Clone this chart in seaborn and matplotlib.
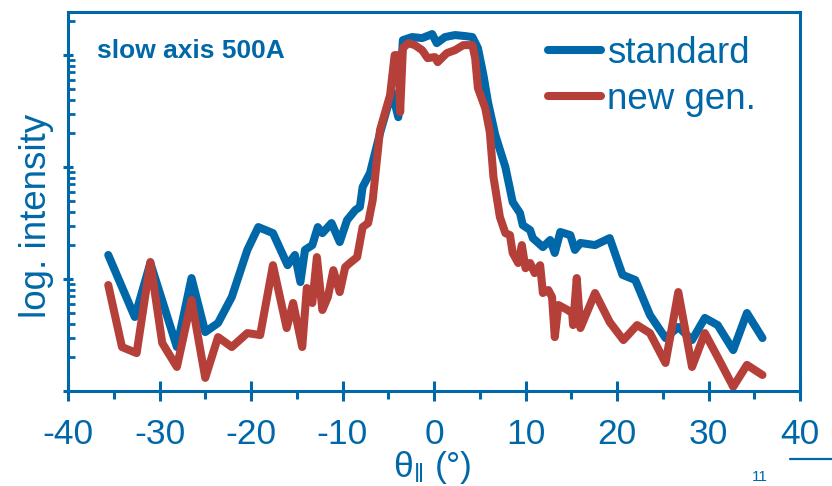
import numpy as np
import pandas as pd
import matplotlib
matplotlib.use("Agg")
import matplotlib.pyplot as plt
import seaborn as sns
from matplotlib.ticker import MultipleLocator, LogLocator, NullFormatter
from matplotlib.lines import Line2D

# ---- data ----
theta_std = [-35.6, -32.7, -31.0, -28.1, -26.5, -25.0, -23.6, -22.1, -20.4, -19.2,
             -17.6, -16.0, -15.2, -14.6, -14.1, -13.3, -12.7, -12.2, -11.2, -10.3,
             -9.5, -8.6, -8.1, -7.8, -7.0, -5.9, -4.6, -3.9, -3.4, -2.4,
             -1.3, -0.2, 0.3, 1.2, 2.3, 3.4, 4.2, 4.8, 5.4, 5.9,
             6.7, 7.8, 8.6, 9.4, 9.7, 10.5, 10.8, 11.9, 12.7, 13.2,
             13.8, 14.9, 15.4, 16.0, 17.6, 19.2, 20.6, 22.0, 23.6, 25.3,
             26.7, 28.2, 29.6, 31.0, 32.7, 34.2, 35.9]
int_std = [16.4, 4.58, 13.9, 2.47, 10.2, 3.36, 4.05, 6.91, 18.2, 29.1,
           25.7, 13.3, 16.4, 9.4, 18.2, 20.1, 29.1, 25.7, 31.6, 21.4,
           33.6, 41.3, 44.0, 66.3, 88.4, 201, 468, 279, 1361, 1449,
           1419, 1541, 1279, 1449, 1510, 1479, 1449, 1155, 663, 380,
           193, 100, 48.7, 38.8, 30.3, 27.4, 23.2, 19.3, 22.3, 17.1,
           26.3, 24.7, 18.2, 21.0, 20.1, 23.2, 10.9, 9.8, 4.77, 2.97,
           3.73, 2.85, 4.49, 3.88, 2.32, 4.97, 2.97]

theta_new = [-35.6, -34.1, -32.5, -31.0, -29.7, -28.1, -26.5, -25.0, -23.6, -22.1,
             -20.4, -19.0, -17.6, -16.1, -15.4, -14.4, -13.9, -13.3, -12.8, -12.2,
             -11.6, -11.0, -10.3, -9.7, -9.2, -8.4, -7.8, -7.2, -6.7, -5.9,
             -4.8, -4.3, -3.9, -3.7, -3.4, -2.8, -2.1, -1.3, -0.7, 0.1,
             0.4, 1.4, 2.3, 3.2, 4.2, 4.5, 4.8, 5.6, 6.1, 6.5,
             7.2, 7.8, 8.3, 8.6, 9.2, 9.6, 10.0, 10.5, 11.0, 11.6,
             11.9, 12.5, 12.9, 13.2, 13.6, 14.6, 15.1, 15.2, 15.6, 16.0,
             17.6, 19.2, 20.7, 22.2, 23.6, 25.3, 26.7, 28.2, 29.6, 31.0,
             32.7, 34.2, 35.9]
int_new = [8.84, 2.47, 2.18, 14.2, 2.68, 1.64, 6.5, 1.31, 3.03, 2.47,
           3.29, 3.16, 13.3, 3.65, 6.11, 2.47, 8.31, 6.11, 15.7, 5.29,
           6.91, 12.0, 7.65, 12.8, 13.9, 15.7, 29.1, 31.6, 50.7, 214,
           439, 1000, 1000, 310, 1155, 1279, 1228, 1108, 940, 960,
           866, 1042, 1108, 1228, 1228, 940, 507, 336, 205, 81.4,
           35.8, 25.7, 24.7, 17.1, 13.9, 20.1, 12.5, 13.9, 11.3, 13.3,
           7.5, 7.97, 6.91, 3.03, 5.86, 5.29, 4.97, 3.88, 10.2, 3.65,
           7.5, 4.13, 2.85, 3.88, 3.29, 1.78, 7.65, 1.64, 3.29, 2.01,
           1.09, 1.71, 1.39]

series_names = ["standard", "new gen."]
x_ticks = [-40, -30, -20, -10, 0, 10, 20, 30, 40]
title_text = "slow axis 500A"

BLUE = "#0068A8"
RED = "#B5403A"

df = pd.concat([
    pd.DataFrame({"theta": theta_std, "intensity": int_std, "series": series_names[0]}),
    pd.DataFrame({"theta": theta_new, "intensity": int_new, "series": series_names[1]}),
], ignore_index=True)

sns.set_style("ticks")
plt.rcParams["font.family"] = ["Liberation Sans", "DejaVu Sans"]
plt.rcParams["mathtext.fontset"] = "custom"
plt.rcParams["mathtext.rm"] = "Liberation Sans"
plt.rcParams["mathtext.it"] = "Liberation Sans"
plt.rcParams["mathtext.fallback"] = "stixsans"

fig = plt.figure(figsize=(8.32, 4.86), dpi=100)
ax = fig.add_axes([68 / 832, 1 - 391 / 486, 732 / 832, 379 / 486])

sns.lineplot(data=df, x="theta", y="intensity", hue="series", hue_order=series_names,
             palette=[BLUE, RED], sort=False, estimator=None, linewidth=5.8,
             ax=ax, legend=True)
for ln in ax.get_lines():
    ln.set_solid_joinstyle("round")
    ln.set_solid_capstyle("round")

ax.set_yscale("log")
ax.set_xlim(-40, 40)
ax.set_ylim(1, 10 ** 3.385)

ax.xaxis.set_major_locator(MultipleLocator(10))
ax.xaxis.set_minor_locator(MultipleLocator(5))
ax.set_xticks(x_ticks)
ax.set_xticklabels([str(v) for v in x_ticks])
ax.yaxis.set_major_locator(LogLocator(base=10, numticks=10))
ax.yaxis.set_minor_locator(LogLocator(base=10, subs=np.arange(2, 10), numticks=10))
ax.yaxis.set_major_formatter(NullFormatter())
ax.yaxis.set_minor_formatter(NullFormatter())

for sp in ax.spines.values():
    sp.set_visible(True)
    sp.set_color(BLUE)
    sp.set_linewidth(2.2)

ax.tick_params(axis="both", which="both", bottom=True, left=True, top=False, right=False)
ax.tick_params(axis="x", which="major", direction="inout", length=14.5, width=2.2,
               color=BLUE, labelcolor=BLUE, labelsize=25.5, pad=12)
ax.tick_params(axis="x", which="minor", direction="out", length=5.5, width=2.2, color=BLUE)
ax.tick_params(axis="y", which="major", direction="inout", length=7.5, width=2.2, color=BLUE)
ax.tick_params(axis="y", which="minor", direction="in", length=5, width=2.0, color=BLUE)

ax.set_xlabel(r"$\mathrm{θ}_{\Vert}$ (°)", fontsize=25.5, color=BLUE)
ax.xaxis.set_label_coords(0.497, -0.153)
ax.set_ylabel("log. intensity", fontsize=26.5, color=BLUE)
ax.yaxis.set_label_coords(-0.019, 0.462)

ax.text(29 / 732, (391 - 51) / 379, title_text, transform=ax.transAxes,
        fontsize=19, fontweight="bold", color=BLUE, va="center", ha="left")

handles = [Line2D([], [], color=BLUE, lw=5.8), Line2D([], [], color=RED, lw=5.8)]
leg = ax.legend(handles, series_names, loc="upper left",
                bbox_to_anchor=((548 - 68) / 732, (391 - 36) / 379),
                frameon=False, fontsize=26.5, handlelength=1.45, handletextpad=0.15,
                labelspacing=0.3, borderaxespad=0, borderpad=0)
for t in leg.get_texts():
    t.set_color(BLUE)

fig.add_artist(Line2D([790 / 832, 1.0], [1 - 459 / 486, 1 - 459 / 486],
                      transform=fig.transFigure, color=BLUE, lw=1.6))
fig.text(752 / 832, 1 - 484 / 486, "11", fontsize=11, color=BLUE, va="bottom", ha="left")

fig.savefig("out.png", dpi=100)
